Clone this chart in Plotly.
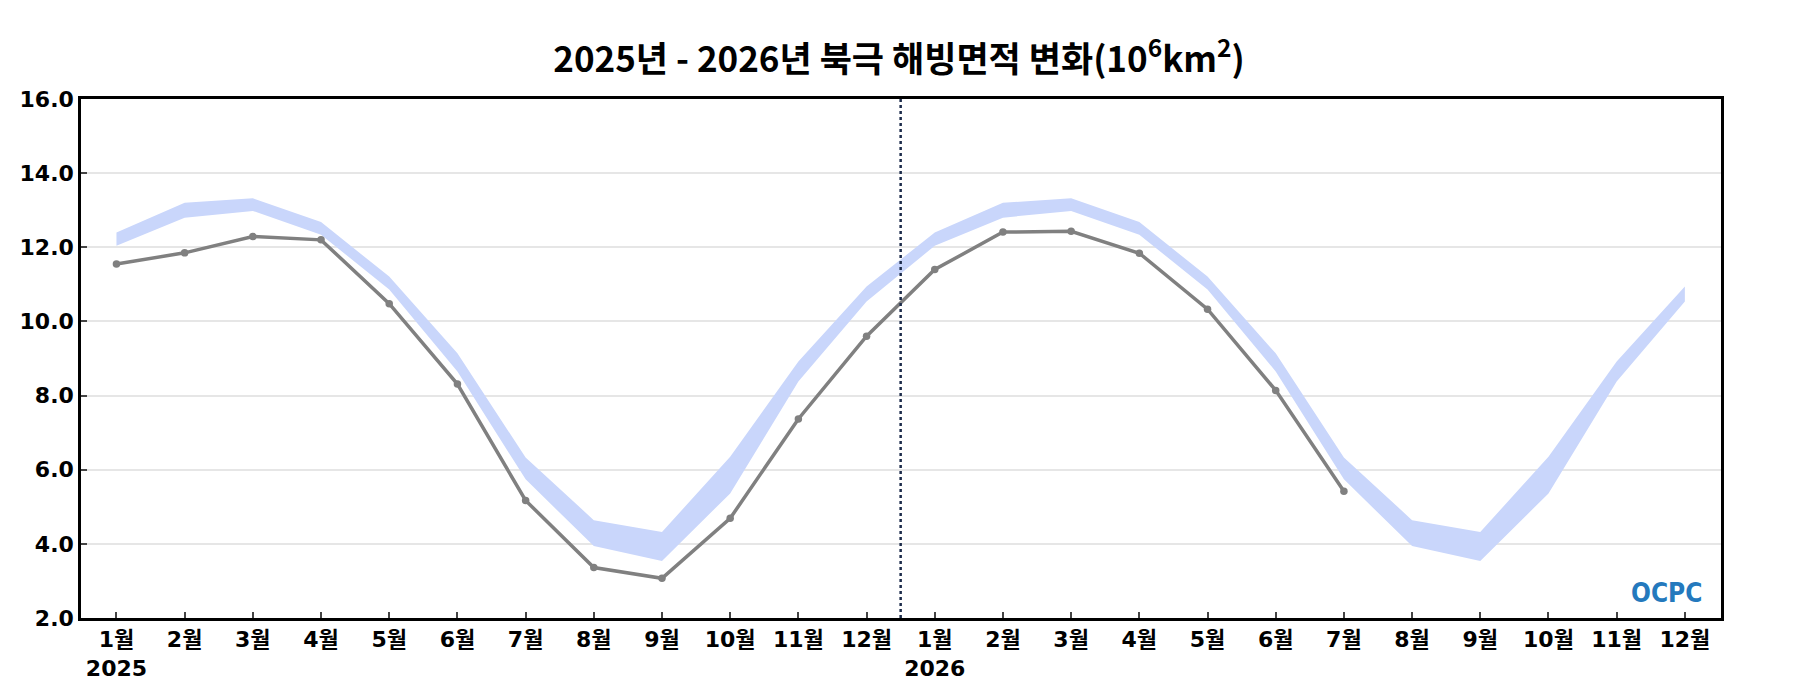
import plotly.graph_objects as go

# 월 라벨 (2년치)
months = ["1월", "2월", "3월", "4월", "5월", "6월", "7월", "8월", "9월", "10월", "11월", "12월"]
years = ["2025", "2026"]

# 관측 해빙면적 (10^6 km^2)
obs_2025 = [11.55, 11.85, 12.29, 12.20, 10.48, 8.31, 5.17, 3.36, 3.07, 4.69, 7.37, 9.60]
obs_2026 = [11.40, 12.41, 12.43, 11.84, 10.33, 8.14, 5.42]

# 기후값 범위 (하한/상한)
clim_low = [12.04, 12.80, 12.98, 12.34, 10.86, 8.65, 5.74, 3.94, 3.54, 5.36, 8.38, 10.54]
clim_high = [12.40, 13.20, 13.32, 12.68, 11.21, 9.14, 6.33, 4.64, 4.32, 6.35, 8.92, 10.94]

x_all = list(range(len(months) * len(years)))
obs = obs_2025 + obs_2026
low = clim_low * len(years)
high = clim_high * len(years)

tick_text = []
for y in years:
    for i, m in enumerate(months):
        tick_text.append(m + "<br>" + y if i == 0 else m)

fig = go.Figure()

# 기후값 범위 밴드
fig.add_trace(go.Scatter(x=x_all, y=low, mode="lines", line=dict(width=0),
                         hoverinfo="skip", showlegend=False))
fig.add_trace(go.Scatter(x=x_all, y=high, mode="lines", line=dict(width=0),
                         fill="tonexty", fillcolor="rgb(201,214,251)",
                         hoverinfo="skip", showlegend=False))

# 관측값
fig.add_trace(go.Scatter(x=x_all[:len(obs)], y=obs, mode="lines+markers",
                         line=dict(color="#808080", width=3.5),
                         marker=dict(color="#808080", size=7.5),
                         showlegend=False))

# 연도 구분선
fig.add_vline(x=11.5, line=dict(color="#1c2b4a", width=2.5, dash="dot"))

tick_font = dict(family="DejaVu Sans, Noto Sans CJK KR", size=22, color="black", weight="bold")

fig.update_layout(
    width=1800, height=700,
    margin=dict(l=71, r=87, t=91, b=90),
    paper_bgcolor="white", plot_bgcolor="white",
    title=dict(text="2025년 - 2026년 북극 해빙면적 변화(10<sup>6</sup>km<sup>2</sup>)",
               x=0.495, xanchor="center", y=0.926, yanchor="middle",
               font=dict(family="Noto Sans CJK KR", size=35, color="black", weight="bold")),
    xaxis=dict(range=[-0.52, 23.53], tickmode="array", tickvals=x_all,
               ticktext=tick_text,
               ticks="inside", ticklen=6, tickwidth=1.5, tickcolor="#444",
               showgrid=False, zeroline=False,
               showline=True, linecolor="black", linewidth=2.5, mirror=True,
               tickfont=tick_font),
    yaxis=dict(range=[2, 16], dtick=2, tickformat=".1f",
               ticks="inside", ticklen=6, tickwidth=1.5, tickcolor="#444",
               showgrid=True, gridcolor="#e6e6e6", gridwidth=1.5, zeroline=False,
               showline=True, linecolor="black", linewidth=2.5, mirror=True,
               tickfont=tick_font),
)

# OCPC 로고 텍스트
fig.add_annotation(text="OCPC", xref="paper", yref="paper", x=0.967, y=0.048,
                   xanchor="center", yanchor="middle", showarrow=False,
                   font=dict(family="DejaVu Sans Condensed, DejaVu Sans", size=26,
                             color="#2479bd", weight="bold"))

fig.write_html("out.html")
